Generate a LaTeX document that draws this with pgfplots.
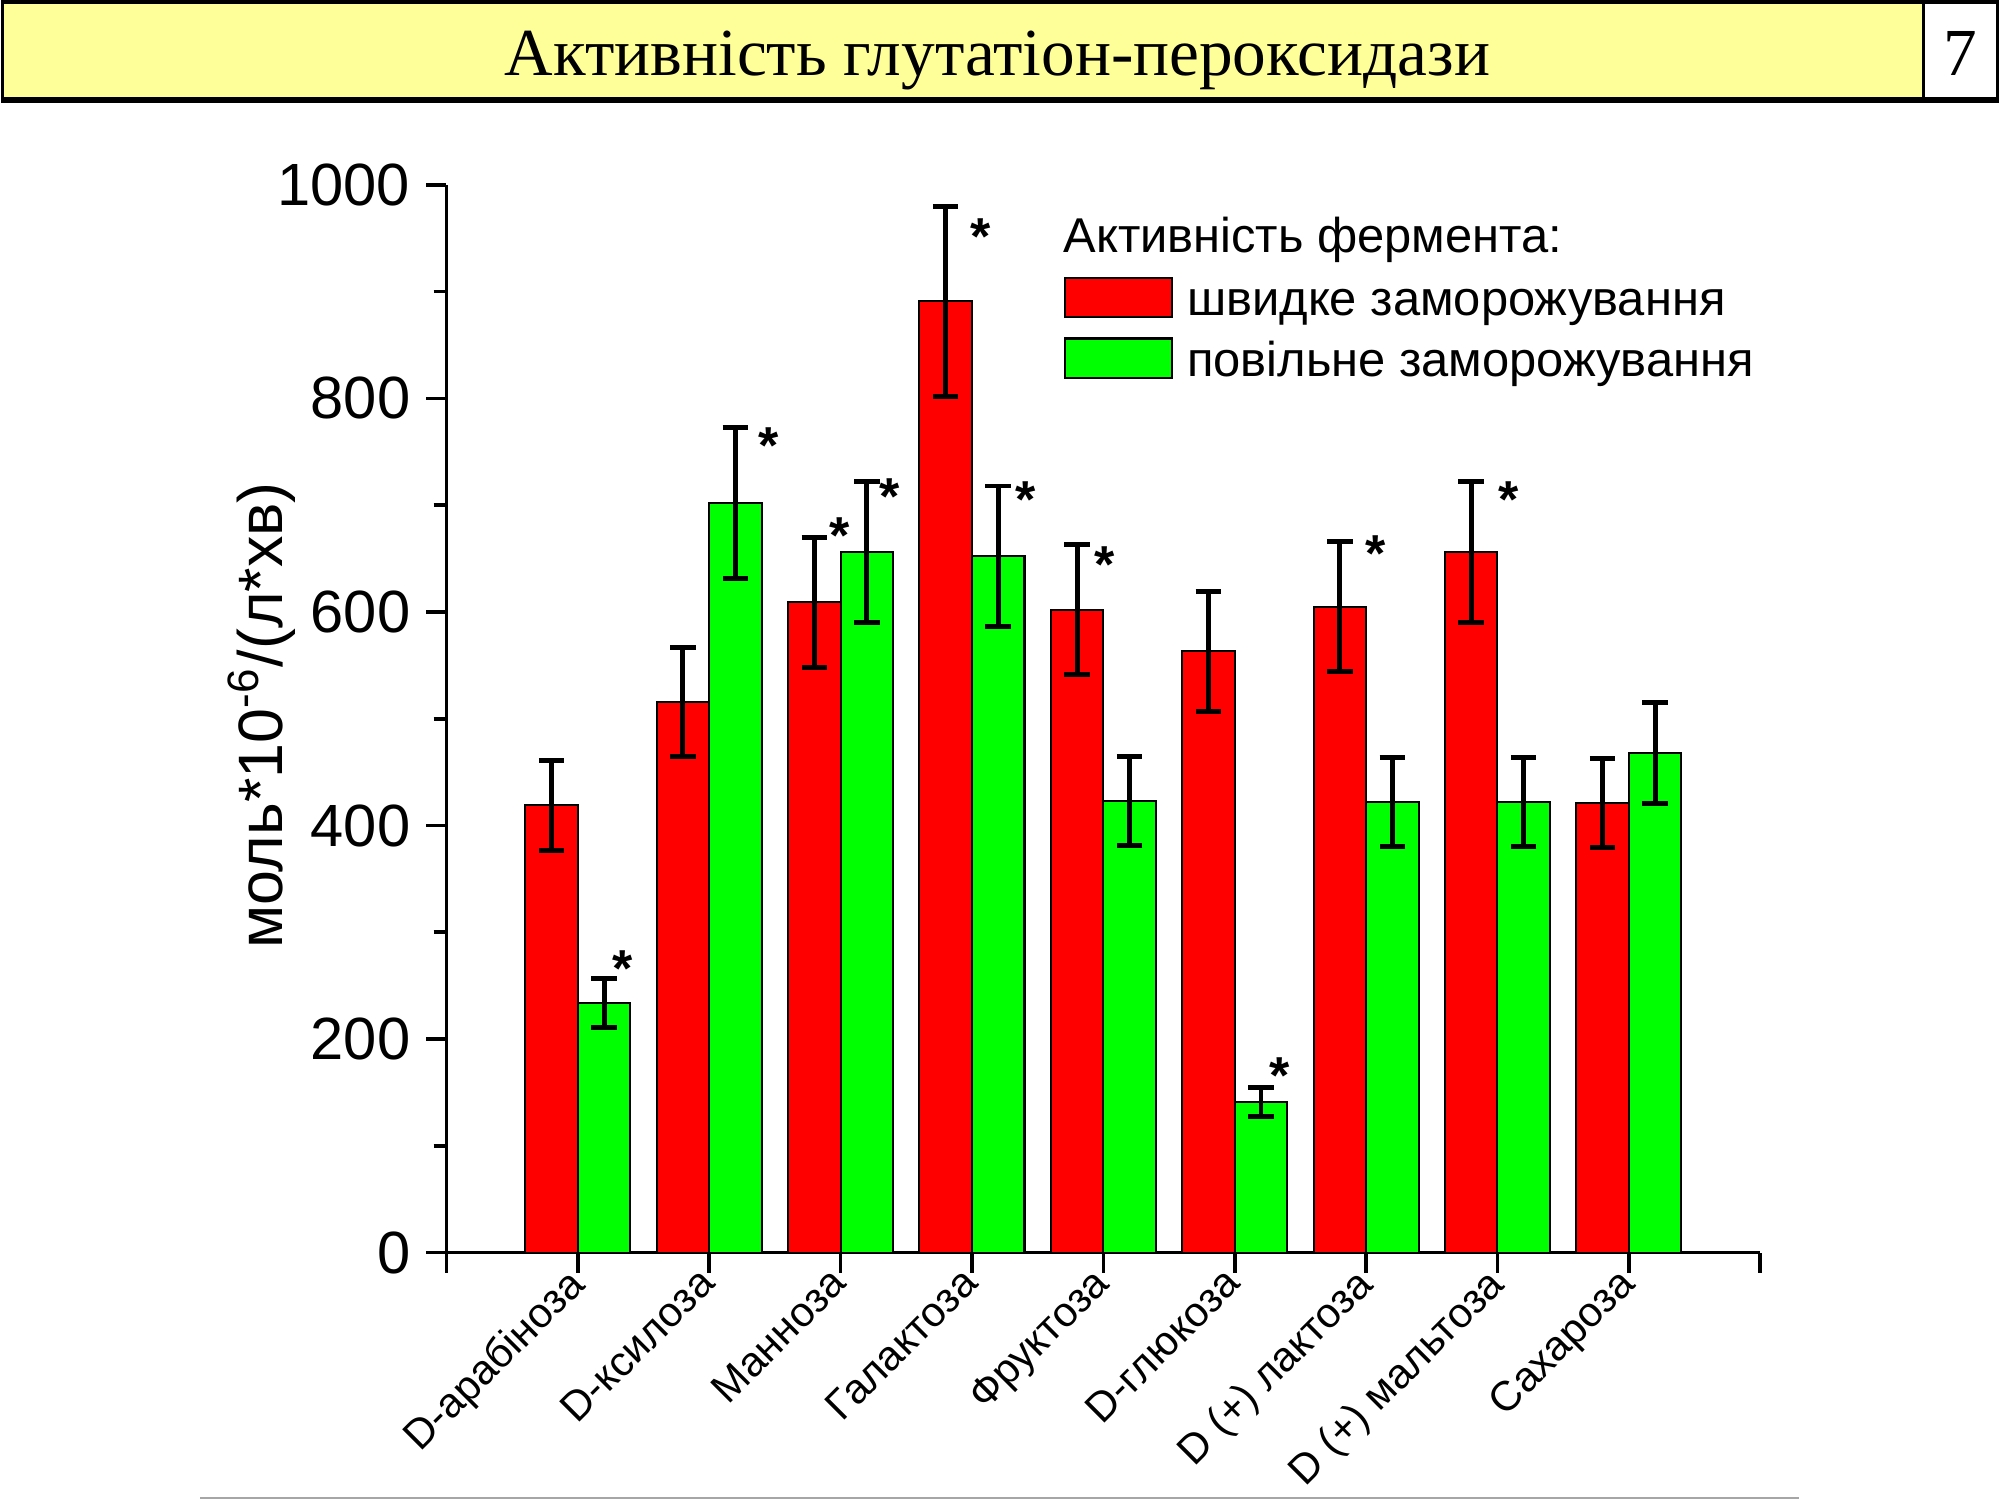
\documentclass[border=0pt]{standalone}
\usepackage{fontspec}
\setmainfont{Liberation Sans}
\newfontfamily\timesfont{Liberation Serif}
\usepackage{pgfplots}
\usepackage{pgfplotstable}
\pgfplotsset{compat=1.18}
\definecolor{titleyellow}{RGB}{255,255,153}
\definecolor{barred}{RGB}{255,0,0}
\definecolor{bargreen}{RGB}{0,255,0}

% швидке заморожування
\pgfplotstableread{
x y e
0 419 42
1 516 51
2 609 61
3 891 89
4 602 61
5 563 56
6 605 61
7 656 66
8 421 42
}\fastdata
% повільне заморожування
\pgfplotstableread{
x y e
0 234 23
1 702 71
2 656 66
3 652 66
4 423 42
5 141 14
6 422 42
7 422 42
8 468 47
}\slowdata
% significance marks
\pgfplotstableread{
x y
0.34 277
1.45 767
1.995 682
2.375 719
3.066 962
3.406 716
4.01 655
5.343 176
6.07 665
7.085 716
}\stars

\begin{document}
\begin{tikzpicture}
\useasboundingbox (0,0) rectangle (15.68cm,11.76cm);
\fill[white] (0,0) rectangle (15.68cm,11.76cm);
% title bar
\filldraw[fill=titleyellow, draw=black, line width=0.8pt] (0.02cm,10.97cm) rectangle (15.08cm,11.745cm);
\filldraw[fill=white, draw=black, line width=0.8pt] (15.08cm,10.97cm) rectangle (15.66cm,11.745cm);
\draw[black, line width=1.2pt] (0.02cm,10.975cm) -- (15.66cm,10.975cm);
\node[anchor=base, inner sep=0pt] at (7.82cm,11.17cm) {\timesfont\fontsize{15}{18}\selectfont Активність глутатіон-пероксидази};
\node[anchor=base, inner sep=0pt] at (15.37cm,11.17cm) {\timesfont\fontsize{15}{18}\selectfont 7};
\draw[gray!70, line width=0.6pt] (1.57cm,0.015cm) -- (14.10cm,0.015cm);

\begin{axis}[
  at={(3.50cm,1.94cm)}, anchor=south west,
  scale only axis, width=10.30cm, height=8.37cm,
  xmin=-1, xmax=9, ymin=0, ymax=1000,
  clip=false,
  axis x line*=bottom, axis y line*=left,
  axis line style={line width=0.8pt, black},
  xtick={-1,0,1,2,3,4,5,6,7,8,9},
  xticklabels={{},D-арабіноза,D-ксилоза,Манноза,Галактоза,Фруктоза,D-глюкоза,D (+) лактоза,D (+) мальтоза,Сахароза,{}},
  ytick={0,200,400,600,800,1000}, minor y tick num=1,
  tick align=outside,
  major tick length=0.16cm, minor tick length=0.10cm,
  every tick/.style={line width=0.8pt, black},
  /pgf/number format/assume math mode=true,
  /pgf/number format/1000 sep={},
  yticklabel style={font=\fontsize{13.3}{16}\selectfont},
  xticklabel style={xshift=-0.10cm, yshift=0.12cm, rotate=45, anchor=north east, inner sep=1pt, font=\fontsize{9.3}{11}\selectfont},
  ylabel={моль*10\textsuperscript{-6}/(л*хв)},
  ylabel style={at={(rel axis cs:-0.1408,0.503)}, anchor=center, rotate=0, font=\fontsize{14}{16}\selectfont},
  legend style={at={(axis cs:3.70,914)}, anchor=north west, draw=none, fill=none,
    inner sep=0pt, outer sep=0pt, row sep=0.10cm, column sep=0.11cm,
    font=\fontsize{10.9}{13}\selectfont,
    nodes={inner sep=0pt, text height=0.72em, text depth=0.21em}},
  legend cell align=left,
  legend image code/.code={\draw[#1, line width=0.45pt] (0cm,-0.105cm) rectangle (0.84cm,0.205cm);},
]
\addplot[ybar, bar width=0.4, bar shift=0pt, fill=barred, draw=black, line width=0.45pt,
  error bars/.cd, y dir=both, y explicit,
  error bar style={line width=1.1pt, black},
  error mark options={rotate=90, line width=1.1pt, mark size=0.1cm, black}]
  table[x expr=\thisrow{x}-0.2, y=y, y error=e]{\fastdata};
\addlegendentry{швидке заморожування}
\addplot[ybar, bar width=0.4, bar shift=0pt, fill=bargreen, draw=black, line width=0.45pt,
  error bars/.cd, y dir=both, y explicit,
  error bar style={line width=1.1pt, black},
  error mark options={rotate=90, line width=1.1pt, mark size=0.1cm, black}]
  table[x expr=\thisrow{x}+0.2, y=y, y error=e]{\slowdata};
\addlegendentry{повільне заморожування}
\addplot[forget plot, draw=none, mark=none,
  nodes near coords={\bfseries *},
  every node near coord/.append style={anchor=base, yshift=-0.23cm, inner sep=0pt, black,
    font=\fontsize{11.6}{12}\selectfont}]
  table[x=x, y=y]{\stars};
\node[anchor=base west, inner sep=0pt, font=\fontsize{10.9}{13}\selectfont] at (axis cs:3.69,937) {Активність фермента:};
\end{axis}
\end{tikzpicture}
\end{document}
